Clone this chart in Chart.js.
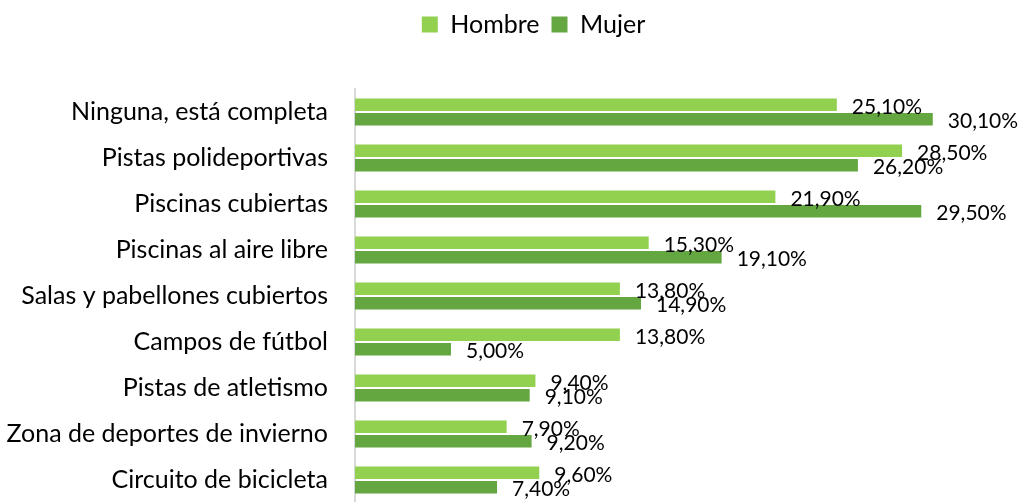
<!DOCTYPE html>
<html lang="es">
<head>
    <meta charset="UTF-8">
    <title>Instalaciones deportivas por sexo</title>
    <script src="https://cdn.jsdelivr.net/npm/chart.js"></script>
    <style>
        html, body { margin: 0; padding: 0; background: #fff; overflow: hidden; }
        canvas { display: block; }
    </style>
</head>
<body>
    <canvas id="chart" width="1023" height="518"></canvas>

    <script>
        const categories = [
            "Ninguna, está completa",
            "Pistas polideportivas",
            "Piscinas cubiertas",
            "Piscinas al aire libre",
            "Salas y pabellones cubiertos",
            "Campos de fútbol",
            "Pistas de atletismo",
            "Zona de deportes de invierno",
            "Circuito de bicicleta"
        ];
        const hombre = [25.1, 28.5, 21.9, 15.3, 13.8, 13.8, 9.4, 7.9, 9.6];
        const mujer = [30.1, 26.2, 29.5, 19.1, 14.9, 5.0, 9.1, 9.2, 7.4];

        const FONT = "Lato, 'Noto Sans', sans-serif";

        // etiquetas de valor a la derecha de cada barra
        const valueLabels = {
            id: "valueLabels",
            afterDatasetsDraw(chart) {
                const ctx = chart.ctx;
                ctx.save();
                ctx.font = "21px " + FONT;
                ctx.fillStyle = "#000";
                ctx.textAlign = "left";
                ctx.textBaseline = "middle";
                chart.data.datasets.forEach((ds, i) => {
                    chart.getDatasetMeta(i).data.forEach((bar, j) => {
                        const txt = ds.data[j].toFixed(2).replace(".", ",") + "%";
                        ctx.fillText(txt, bar.x + 15, bar.y + 2);
                    });
                });
                ctx.restore();
            }
        };

        // altura fija de la leyenda y pequeño desplazamiento a la derecha
        const legendTweak = {
            id: "legendTweak",
            beforeInit(chart) {
                const origFit = chart.legend.fit;
                chart.legend.fit = function () {
                    origFit.bind(chart.legend)();
                    this.height = 89;
                };
            },
            afterLayout(chart) {
                chart.legend.left += 22;
                chart.legend.right += 22;
            }
        };

        new Chart(document.getElementById("chart"), {
            type: "bar",
            data: {
                labels: categories,
                datasets: [
                    {
                        label: "Hombre",
                        data: hombre,
                        backgroundColor: "#92D050",
                        categoryPercentage: 0.63,
                        barPercentage: 0.86
                    },
                    {
                        label: "Mujer",
                        data: mujer,
                        backgroundColor: "#64A740",
                        categoryPercentage: 0.63,
                        barPercentage: 0.86
                    }
                ]
            },
            options: {
                indexAxis: "y",
                responsive: false,
                animation: false,
                layout: { padding: { left: 0, right: 0, top: 0, bottom: 1 } },
                plugins: {
                    legend: {
                        position: "top",
                        labels: {
                            color: "#000",
                            font: { size: 25, family: FONT },
                            boxWidth: 16,
                            boxHeight: 16,
                            padding: 12
                        }
                    },
                    tooltip: { enabled: false }
                },
                scales: {
                    x: {
                        display: false,
                        min: 0,
                        max: 34.8
                    },
                    y: {
                        // tickLength en vez de padding para no reservar espacio abajo
                        grid: { display: false, drawTicks: true, tickLength: 27 },
                        border: { display: true, color: "#d9d9d9", width: 2 },
                        ticks: {
                            color: "#000",
                            font: { size: 25, family: FONT },
                            padding: 0
                        },
                        afterFit(scale) {
                            scale.width = 355;
                        }
                    }
                }
            },
            plugins: [valueLabels, legendTweak]
        });
    </script>
</body>
</html>
